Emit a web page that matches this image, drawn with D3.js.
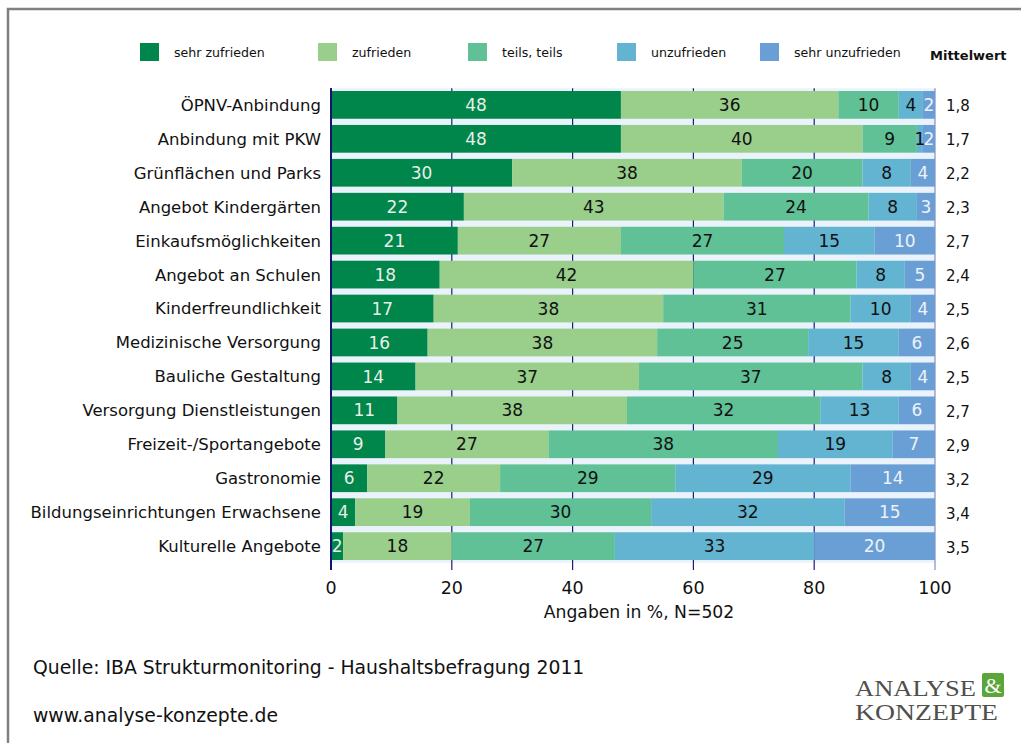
<!DOCTYPE html>
<html><head><meta charset="utf-8">
<script src="https://cdn.jsdelivr.net/npm/d3@7"></script>
<style>body{margin:0;background:#fff;}svg{display:block;font-family:"DejaVu Sans",sans-serif;}</style>
</head><body>
<svg id="c" width="1021" height="743"></svg>
<script>
const categories = ["ÖPNV-Anbindung","Anbindung mit PKW","Grünflächen und Parks","Angebot Kindergärten","Einkaufsmöglichkeiten","Angebot an Schulen","Kinderfreundlichkeit","Medizinische Versorgung","Bauliche Gestaltung","Versorgung Dienstleistungen","Freizeit-/Sportangebote","Gastronomie","Bildungseinrichtungen Erwachsene","Kulturelle Angebote"];
const seriesNames = ["sehr zufrieden","zufrieden","teils, teils","unzufrieden","sehr unzufrieden"];
const sehrZufrieden   = [48,48,30,22,21,18,17,16,14,11,9,6,4,2];
const zufrieden       = [36,40,38,43,27,42,38,38,37,38,27,22,19,18];
const teilsTeils      = [10,9,20,24,27,27,31,25,37,32,38,29,30,27];
const unzufrieden     = [4,1,8,8,15,8,10,15,8,13,19,29,32,33];
const sehrUnzufrieden = [2,2,4,3,10,5,4,6,4,6,7,14,15,20];
const mittelwert      = [1.8,1.7,2.2,2.3,2.7,2.4,2.5,2.6,2.5,2.7,2.9,3.2,3.4,3.5];
const xTicks = [0,20,40,60,80,100];
const colors = ["#00854a","#99ce8b","#60c096","#62b4d0","#6a9fd5"];
const textColors = ["#e8efe8","#111","#111","#111","#eef2f8"];

const allSeries = [sehrZufrieden,zufrieden,teilsTeils,unzufrieden,sehrUnzufrieden];
const rows = categories.map((c,i)=>{const o={cat:c};seriesNames.forEach((s,j)=>o[s]=allSeries[j][i]);return o;});
const stacked = d3.stack().keys(seriesNames)(rows);

const svg = d3.select("#c");
// frame
svg.append("path").attr("d","M8,743V9H1021").attr("fill","none").attr("stroke","#808080").attr("stroke-width",2.5);

const x = d3.scaleLinear().domain([0,100]).range([331,935]);
const y = d3.scaleBand().domain(categories).range([88.3,562.7]).paddingInner(0.183).paddingOuter(0.08);

// plot background
svg.append("rect").attr("x",x(0)).attr("y",88.3).attr("width",x(100)-x(0)).attr("height",562.7-88.3).attr("fill","#eaf3fc");
// grid
svg.append("g").selectAll("line").data(xTicks).join("line")
  .attr("x1",d=>x(d)).attr("x2",d=>x(d)).attr("y1",88.3).attr("y2",570)
  .attr("stroke",d=>d===100?"#8a8ac4":"#1c1c7c").attr("stroke-width",d=>d===0?2:1.2);

// bars
const g = svg.append("g");
stacked.forEach((layer,j)=>{
  g.append("g").selectAll("rect").data(layer).join("rect")
    .attr("x",d=>x(d[0])).attr("width",d=>x(d[1])-x(d[0]))
    .attr("y",d=>y(d.data.cat)).attr("height",y.bandwidth())
    .attr("fill",colors[j]);
});
stacked.forEach((layer,j)=>{
  g.append("g").selectAll("text").data(layer).join("text")
    .attr("x",d=>(x(d[0])+x(d[1]))/2).attr("y",d=>y(d.data.cat)+y.bandwidth()/2)
    .attr("dy","0.36em").attr("text-anchor","middle").attr("font-size",17)
    .attr("fill",textColors[j]).text(d=>d[1]-d[0]);
});
// left axis line
svg.append("line").attr("x1",x(0)).attr("x2",x(0)).attr("y1",88.3).attr("y2",570).attr("stroke","#14146e").attr("stroke-width",2);

// category labels
svg.append("g").selectAll("text").data(categories).join("text")
  .attr("x",321).attr("y",d=>y(d)+y.bandwidth()/2).attr("dy","0.36em")
  .attr("text-anchor","end").attr("font-size",16.5).attr("fill","#111").text(d=>d);

// mittelwert
svg.append("g").selectAll("text").data(mittelwert).join("text")
  .attr("x",946).attr("y",(d,i)=>y(categories[i])+y.bandwidth()/2+1).attr("dy","0.36em")
  .attr("font-size",15).attr("fill","#111").text(d=>d3.format(".1f")(d).replace(".",","));

// x tick labels
svg.append("g").selectAll("text").data(xTicks).join("text")
  .attr("x",d=>x(d)).attr("y",588).attr("dy","0.36em").attr("text-anchor","middle")
  .attr("font-size",17.5).attr("fill","#111").text(d=>d);
svg.append("text").attr("x",x(50)+6).attr("y",612).attr("dy","0.36em").attr("text-anchor","middle")
  .attr("font-size",17.2).attr("fill","#111").text("Angaben in %, N=502");

// legend
const legX = [140,318,468,617,760];
const lg = svg.append("g");
seriesNames.forEach((s,j)=>{
  lg.append("rect").attr("x",legX[j]).attr("y",43).attr("width",19).attr("height",18).attr("fill",colors[j]);
  lg.append("text").attr("x",legX[j]+34).attr("y",52).attr("dy","0.36em").attr("font-size",12.6).attr("fill","#111").text(s);
});
svg.append("text").attr("x",930).attr("y",55).attr("dy","0.36em").attr("font-size",13).attr("font-weight","bold").attr("fill","#111").text("Mittelwert");

// footer
svg.append("text").attr("x",33).attr("y",667).attr("dy","0.36em").attr("font-size",18.8).attr("fill","#111").text("Quelle: IBA Strukturmonitoring - Haushaltsbefragung 2011");
svg.append("text").attr("x",33).attr("y",715).attr("dy","0.36em").attr("font-size",18.8).attr("fill","#111").text("www.analyse-konzepte.de");

// logo
const logo = svg.append("g").attr("font-family","'Liberation Serif',serif").attr("fill","#50504b");
logo.append("text").attr("x",855).attr("y",696).attr("font-size",24).attr("textLength",121).attr("lengthAdjust","spacingAndGlyphs").text("ANALYSE");
logo.append("rect").attr("x",982).attr("y",673).attr("width",22).attr("height",24).attr("rx",2).attr("fill","#5aa63a");
logo.append("text").attr("x",993).attr("y",693).attr("text-anchor","middle").attr("font-size",22).attr("fill","#fff").text("&");
logo.append("text").attr("x",855).attr("y",720).attr("font-size",24).attr("textLength",143).attr("lengthAdjust","spacingAndGlyphs").text("KONZEPTE");
</script>
</body></html>
